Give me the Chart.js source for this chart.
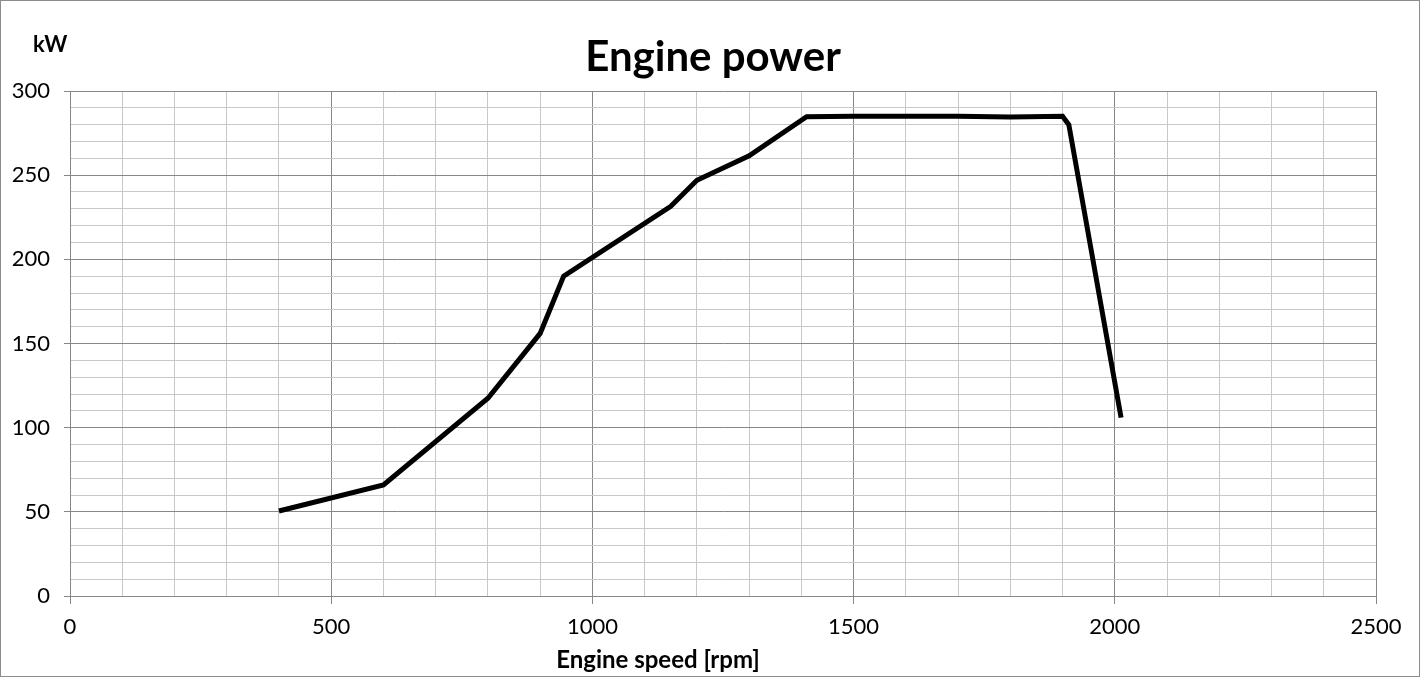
<!DOCTYPE html>
<html>
<head>
<meta charset="utf-8">
<script src="https://cdn.jsdelivr.net/npm/chart.js@4.4.1/dist/chart.umd.min.js"></script>
<style>
    body { margin: 0; background: #fff; }
    #marco { width: 1420px; height: 677px; box-sizing: border-box; border: 1px solid #8c8c8c; }
    #grafico { display: block; }
</style>
</head>
<body>
<div id="marco"><canvas id="grafico" width="1418" height="675"></canvas></div>
<script>
// datos
const rpm = [400, 600, 800, 900, 945, 1150, 1200, 1300, 1410, 1500, 1600, 1700, 1800, 1900, 1912, 2012];
const potencia = [50.5, 66, 117.5, 156, 190, 231.5, 247, 261.5, 284.7, 285, 285, 285, 284.6, 285, 280, 106];
const ticksX = [0, 500, 1000, 1500, 2000, 2500];
const ticksY = [0, 50, 100, 150, 200, 250, 300];

const fuente = 'Lato, "Open Sans", sans-serif';
const gris = 'rgb(135,135,135)';
const grisClaro = 'rgb(200,200,200)';

// textos fuera del area: titulo, unidad y titulo del eje x
const textos = {
    id: 'textos',
    afterDraw(chart) {
        const c = chart.ctx;
        c.save();
        c.fillStyle = '#000';
        c.textBaseline = 'middle';
        c.textAlign = 'center';
        c.font = 'bold 42px ' + fuente;
        c.fillText('Engine power', 712, 56);
        c.font = 'bold 24px ' + fuente;
        c.fillText('Engine speed [rpm]', 657, 659);
        c.textAlign = 'left';
        c.font = 'bold 22px ' + fuente;
        c.fillText('kW', 32, 44);
        c.restore();
    }
};

const ctx = document.getElementById('grafico');
const puntos = rpm.map((r, i) => ({ x: r, y: potencia[i] }));

window.chartPotencia = new Chart(ctx, {
    type: 'line',
    data: {
        datasets: [{
            label: 'Engine power',
            data: puntos,
            borderColor: '#000',
            borderWidth: 5,
            pointRadius: 0,
            tension: 0,
            borderJoinStyle: 'miter',
            borderCapStyle: 'butt'
        }]
    },
    options: {
        responsive: false,
        animation: false,
        layout: { padding: { left: 0, right: 43, top: 90, bottom: 0 } },
        plugins: {
            legend: { display: false },
            tooltip: { enabled: false },
            title: { display: false }
        },
        scales: {
            x: {
                type: 'linear',
                min: 0,
                max: 2500,
                afterFit: s => { s.height = 80; },
                ticks: {
                    stepSize: 100,
                    autoSkip: false,
                    maxRotation: 0,
                    color: '#000',
                    padding: 10,
                    font: { family: fuente, size: 22 },
                    callback: v => ticksX.includes(v) ? v : ''
                },
                grid: {
                    color: c => ticksX.includes(c.tick.value) ? gris : grisClaro,
                    tickColor: c => ticksX.includes(c.tick.value) ? gris : 'rgba(0,0,0,0)',
                    tickLength: 8,
                    lineWidth: 1
                },
                border: { color: gris }
            },
            y: {
                min: 0,
                max: 300,
                afterFit: s => { s.width = 69; },
                ticks: {
                    stepSize: 10,
                    autoSkip: false,
                    color: '#000',
                    padding: 14,
                    font: { family: fuente, size: 22 },
                    callback: v => ticksY.includes(v) ? v : ''
                },
                grid: {
                    color: c => ticksY.includes(c.tick.value) ? gris : grisClaro,
                    tickColor: c => ticksY.includes(c.tick.value) ? gris : 'rgba(0,0,0,0)',
                    tickLength: 6,
                    lineWidth: 1
                },
                border: { color: gris }
            }
        }
    },
    plugins: [textos]
});
</script>
</body>
</html>
